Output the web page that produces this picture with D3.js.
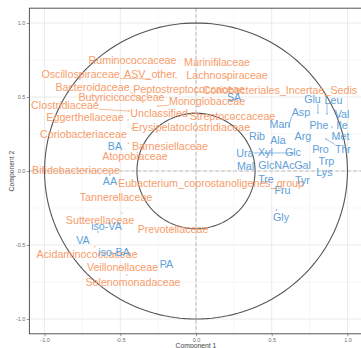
<!DOCTYPE html>
<html>
<head>
<meta charset="utf-8">
<script src="https://cdn.jsdelivr.net/npm/d3@7"></script>
<style>
  html, body { margin: 0; padding: 0; background: #fff; }
  svg { display: block; font-family: "Liberation Sans", Arial, sans-serif; }
</style>
</head>
<body>
<svg id="chart" width="361" height="348"></svg>
<script>
// Correlation circle: taxa (orange) and metabolites (blue) on components 1 and 2.
const varNames = [
  "Ruminococcaceae","Oscillospiraceae","ASV_other","Marinifilaceae","Lachnospiraceae",
  "Bacteroidaceae","Peptostreptococcaceae","Coriobacteriales_Incertae_Sedis","Butyricicoccaceae",
  "Monoglobaceae","Clostridiaceae","Unclassified","Streptococcaceae","Eggerthellaceae",
  "Erysipelatoclostridiaceae","Coriobacteriaceae","Barnesiellaceae","Atopobiaceae",
  "Bifidobacteriaceae","Eubacterium_coprostanoligenes_group","Tannerellaceae","Sutterellaceae",
  "Prevotellaceae","Acidaminococcaceae","Veillonellaceae","Selenomonadaceae",
  "SA","BA","AA","iso-VA","VA","iso-BA","PA",
  "Glu","Leu","Asp","Val","Man","Phe","Ile","Rib","Ala","Arg","Met","Ura","Xyl","Glc",
  "Pro","Thr","Mal","GlcNAc","Gal","Trp","Lys","Tre","Tyr","Fru","Gly"
];
const varBlock = [
  "taxa","taxa","taxa","taxa","taxa","taxa","taxa","taxa","taxa","taxa","taxa","taxa","taxa",
  "taxa","taxa","taxa","taxa","taxa","taxa","taxa","taxa","taxa","taxa","taxa","taxa","taxa",
  "metab","metab","metab","metab","metab","metab","metab",
  "metab","metab","metab","metab","metab","metab","metab","metab","metab","metab","metab",
  "metab","metab","metab","metab","metab","metab","metab","metab","metab","metab","metab",
  "metab","metab","metab"
];
// correlation of each variable with component 1 and component 2
const comp1 = [
  -0.40,-0.310,-0.132,0.14,0.20,-0.350,-0.05,-0.007,-0.47,-0.251,-0.442,-0.25,0.24,-0.449,
  -0.424,-0.72,-0.447,-0.40,-0.70,0.10,-0.52,-0.49,-0.16,-0.667,-0.48,-0.457,
  0.25,-0.52,-0.568,-0.647,-0.73,-0.53,-0.20,
  0.805,0.865,0.614,0.95,0.57,0.80,0.898,0.41,0.56,0.69,0.94,0.634,0.46,0.64,
  0.81,0.858,0.34,0.53,0.70,0.86,0.84,0.46,0.70,0.57,0.533
];
const comp2 = [
  0.73,0.622,0.628,0.72,0.635,0.466,0.54,0.534,0.48,0.439,0.405,0.38,0.36,0.345,
  0.289,0.24,0.187,0.09,0.0,-0.09,-0.19,-0.284,-0.40,-0.511,-0.66,-0.703,
  0.485,0.16,-0.027,-0.412,-0.48,-0.56,-0.645,
  0.392,0.385,0.304,0.37,0.30,0.29,0.297,0.22,0.19,0.22,0.22,0.122,0.12,0.12,
  0.14,0.216,0.025,0.03,0.03,0.055,-0.02,-0.07,-0.075,-0.145,-0.264
];
// repelled label anchors, in component units
const labelC1 = [
  -0.419,-0.762,-0.304,0.139,0.205,-0.683,-0.046,0.554,-0.492,0.073,-0.865,-0.244,0.241,-0.733,
  -0.033,-0.743,-0.172,-0.403,-0.792,0.099,-0.528,-0.634,-0.152,-0.719,-0.485,-0.416,
  0.251,-0.535,-0.568,-0.591,-0.746,-0.541,-0.195,
  0.769,0.908,0.693,0.964,0.554,0.812,0.964,0.403,0.541,0.706,0.954,0.323,0.459,0.64,
  0.822,0.970,0.327,0.531,0.703,0.861,0.848,0.462,0.703,0.571,0.561
];
const labelC2 = [
  0.750,0.655,0.655,0.736,0.649,0.568,0.554,0.547,0.497,0.473,0.446,0.392,0.372,0.365,
  0.297,0.25,0.169,0.101,0.003,-0.081,-0.176,-0.331,-0.392,-0.561,-0.647,-0.75,
  0.5,0.169,-0.072,-0.372,-0.466,-0.549,-0.630,
  0.484,0.480,0.399,0.385,0.318,0.306,0.306,0.236,0.205,0.236,0.232,0.12,0.13,0.13,
  0.147,0.147,0.034,0.041,0.041,0.068,-0.011,-0.056,-0.061,-0.133,-0.313
];
const axisTicks = [-1.0, -0.5, 0.0, 0.5, 1.0];
const minorTicks = [-0.75, -0.25, 0.25, 0.75];
const circleRadii = [1, 0.39];
const axisTitles = ["Component 1", "Component 2"];

const blockColor = { taxa: "#F79D6B", metab: "#62A0D8" };

const svg = d3.select("#chart");
const x = d3.scaleLinear().domain([-1.1, 1.1]).range([29.4, 362.6]);
const y = d3.scaleLinear().domain([-1.1, 1.1]).range([333.8, 8.2]);

const rows = varNames.map((n, i) => ({
  name: n, block: varBlock[i], c1: comp1[i], c2: comp2[i], l1: labelC1[i], l2: labelC2[i]
}));

svg.append("defs").append("clipPath").attr("id", "panelClip")
  .append("rect").attr("x", x(-1.1)).attr("y", y(1.1))
  .attr("width", x(1.1) - x(-1.1)).attr("height", y(-1.1) - y(1.1));

const panel = svg.append("g").attr("clip-path", "url(#panelClip)");

// grid
panel.selectAll("line.vminor").data(minorTicks).join("line")
  .attr("x1", d => x(d)).attr("x2", d => x(d)).attr("y1", y(1.1)).attr("y2", y(-1.1))
  .attr("stroke", "#F2F2F2").attr("stroke-width", 0.6);
panel.selectAll("line.hminor").data(minorTicks).join("line")
  .attr("y1", d => y(d)).attr("y2", d => y(d)).attr("x1", x(-1.1)).attr("x2", x(1.1))
  .attr("stroke", "#F2F2F2").attr("stroke-width", 0.6);
panel.selectAll("line.vmajor").data(axisTicks).join("line")
  .attr("x1", d => x(d)).attr("x2", d => x(d)).attr("y1", y(1.1)).attr("y2", y(-1.1))
  .attr("stroke", "#EBEBEB").attr("stroke-width", 1);
panel.selectAll("line.hmajor").data(axisTicks).join("line")
  .attr("y1", d => y(d)).attr("y2", d => y(d)).attr("x1", x(-1.1)).attr("x2", x(1.1))
  .attr("stroke", "#EBEBEB").attr("stroke-width", 1);

// zero reference lines
panel.append("line").attr("x1", x(0)).attr("x2", x(0)).attr("y1", y(1.1)).attr("y2", y(-1.1))
  .attr("stroke", "#A5A5A5").attr("stroke-width", 0.7).attr("stroke-dasharray", "3.5,2.5");
panel.append("line").attr("y1", y(0)).attr("y2", y(0)).attr("x1", x(-1.1)).attr("x2", x(1.1))
  .attr("stroke", "#A5A5A5").attr("stroke-width", 0.7).attr("stroke-dasharray", "3.5,2.5");

// correlation circles
const circ = d3.line().x(d => x(d[0])).y(d => y(d[1]));
circleRadii.forEach(r => {
  const pts = d3.range(0, 361, 2).map(a => [r * Math.cos(a * Math.PI / 180), r * Math.sin(a * Math.PI / 180)]);
  panel.append("path").attr("d", circ(pts)).attr("fill", "none")
    .attr("stroke", "#555").attr("stroke-width", 1.1);
});

// segments and points sit beneath the labels
const segLayer = panel.append("g");
const ptLayer = panel.append("g");
const txtLayer = panel.append("g");

const labels = txtLayer.selectAll("text").data(rows).join("text")
  .attr("x", d => x(d.l1)).attr("y", d => y(d.l2)).attr("dy", "0.35em")
  .attr("text-anchor", "middle").attr("font-size", 10.7)
  .attr("fill", d => blockColor[d.block])
  .text(d => d.name);

// connector from label box to its point when they sit apart
labels.each(function (d) {
  const b = this.getBBox();
  const px = x(d.c1), py = y(d.c2);
  const cx = Math.max(b.x, Math.min(px, b.x + b.width));
  const cy = Math.max(b.y + 1.5, Math.min(py, b.y + b.height - 1.5));
  if (Math.hypot(px - cx, py - cy) > 5) {
    segLayer.append("line").attr("x1", cx).attr("y1", cy).attr("x2", px).attr("y2", py)
      .attr("stroke", blockColor[d.block]).attr("stroke-width", 0.7);
  }
});

ptLayer.selectAll("circle").data(rows).join("circle")
  .attr("cx", d => x(d.c1)).attr("cy", d => y(d.c2)).attr("r", 0.7)
  .attr("fill", d => blockColor[d.block]);

// panel border
svg.append("rect").attr("x", x(-1.1)).attr("y", y(1.1))
  .attr("width", x(1.1) - x(-1.1)).attr("height", y(-1.1) - y(1.1))
  .attr("fill", "none").attr("stroke", "#555").attr("stroke-width", 1);

// axes
const fmt = v => v.toFixed(1);
const xAxis = svg.append("g").attr("transform", `translate(0,${y(-1.1)})`)
  .call(d3.axisBottom(x).tickValues(axisTicks).tickFormat(fmt).tickSize(2.5).tickPadding(1.5));
const yAxis = svg.append("g").attr("transform", `translate(${x(-1.1)},0)`)
  .call(d3.axisLeft(y).tickValues(axisTicks).tickFormat(fmt).tickSize(2.5).tickPadding(1.5));
[xAxis, yAxis].forEach(g => {
  g.select(".domain").remove();
  g.selectAll(".tick line").attr("stroke", "#555").attr("stroke-width", 0.6);
  g.selectAll(".tick text").attr("fill", "#6E6E6E").attr("font-size", 5.5)
    .attr("font-family", "Liberation Sans, Arial, sans-serif");
});

svg.append("text").attr("x", (x(-1.1) + x(1.1)) / 2).attr("y", 347.5)
  .attr("text-anchor", "middle").attr("font-size", 6.8).attr("fill", "#444")
  .text(axisTitles[0]);
svg.append("text")
  .attr("transform", `translate(13.5,${(y(1.1) + y(-1.1)) / 2}) rotate(-90)`)
  .attr("text-anchor", "middle").attr("font-size", 6.8).attr("fill", "#444")
  .text(axisTitles[1]);
</script>
</body>
</html>
